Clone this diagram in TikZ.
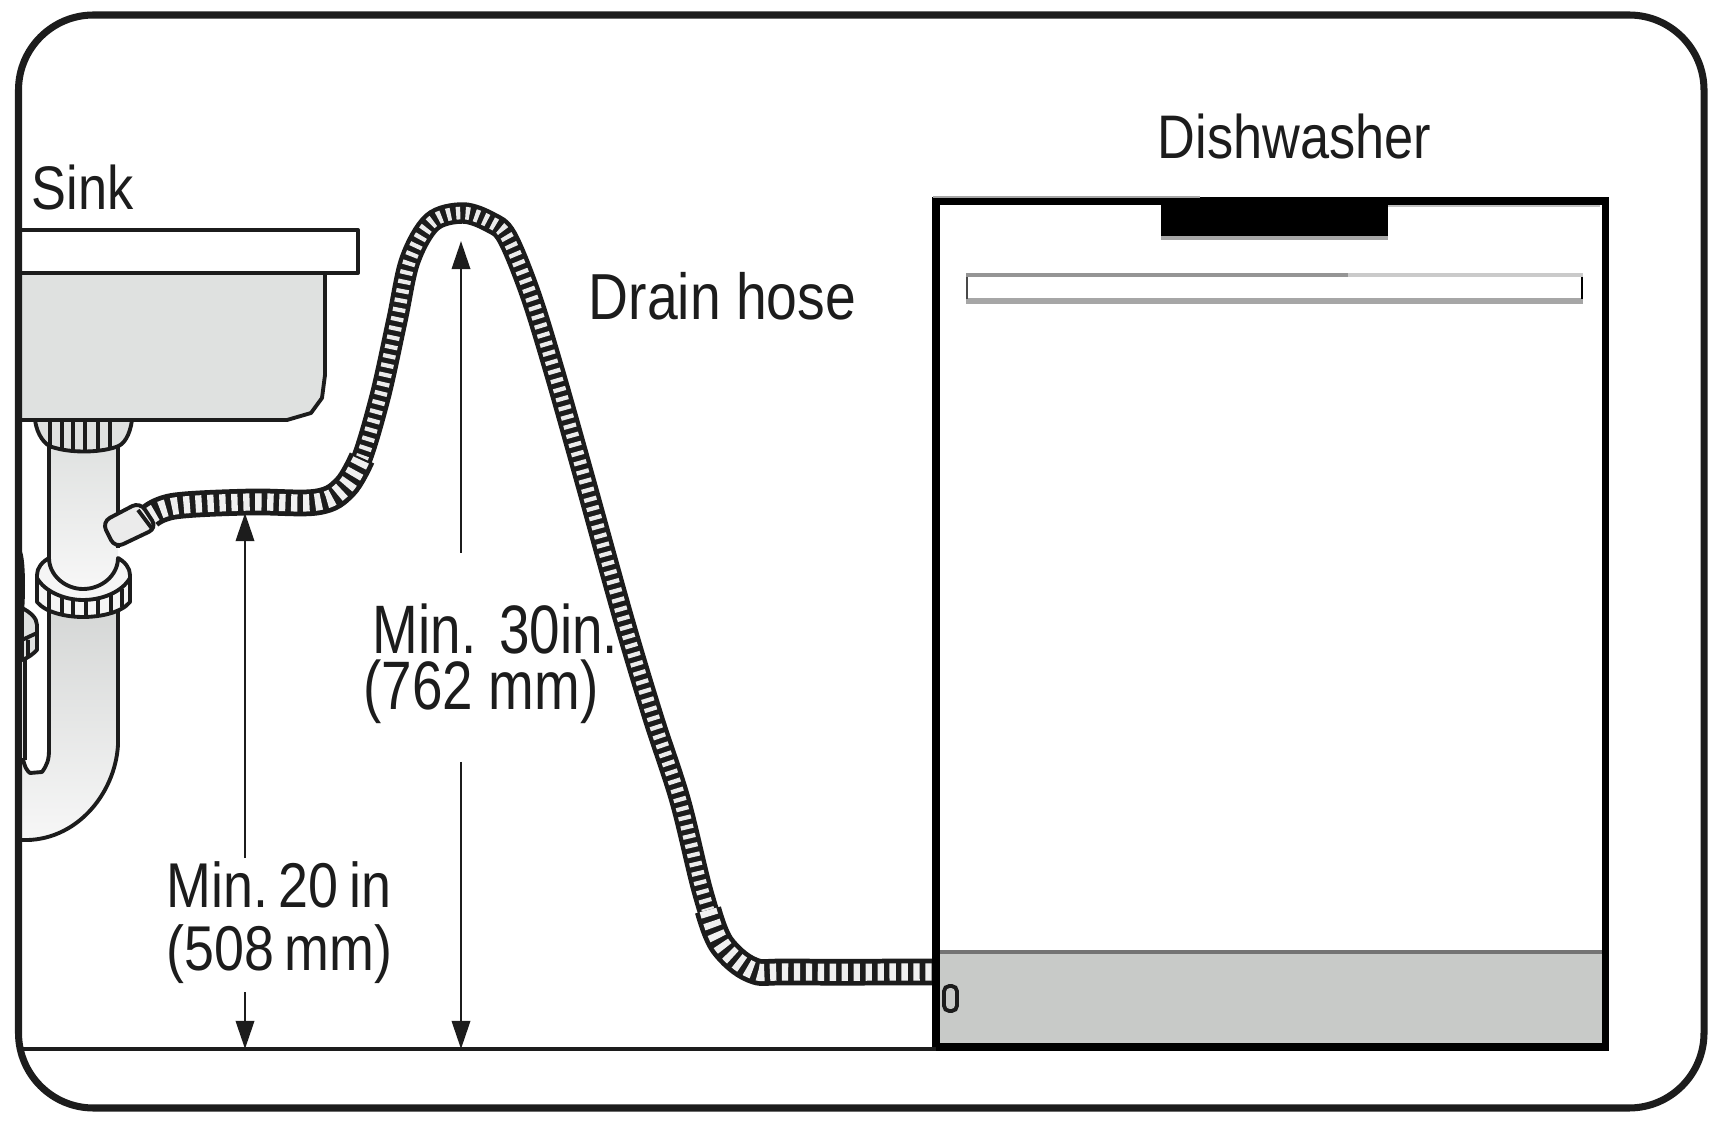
\documentclass[tikz,border=0pt]{standalone}
\usepackage{fontspec}
\setmainfont[FakeStretch=0.85]{Liberation Sans}
\newfontfamily\narrowfont[FakeStretch=0.8]{Liberation Sans}
\usepackage{tikz}
\usetikzlibrary{arrows.meta}

\definecolor{basingray}{HTML}{DFE1E0}
\definecolor{kickgray}{HTML}{C8CAC8}
\definecolor{trimgray}{HTML}{A6A6A6}
\definecolor{inkblack}{HTML}{1C1C1C}

\tikzset{
    outline/.style={draw=inkblack, line width=1.1pt, line join=round},
    dimarrow/.style={draw=inkblack, line width=0.8pt, -{Stealth[inset=0pt, length=8pt, width=5.2pt]}},
    biglabel/.style={anchor=base west, inner sep=0pt, text=inkblack, font=\narrowfont\fontsize{19.5}{22}\selectfont},
    smalllabel/.style={anchor=base west, inner sep=0pt, text=inkblack, font=\fontsize{17.5}{20}\selectfont},
    legrim/.style={inkblack, line width=6.1pt},
    legrib/.style={white!92!black, line width=3.6pt, dash pattern=on 1.2pt off 1.5pt},
    flatrim/.style={inkblack, line width=7.6pt},
    flatrib/.style={white!94!black, line width=4.9pt, dash pattern=on 1.8pt off 1.6pt},
}

\begin{document}
\begin{tikzpicture}[x=0.01cm, y=-0.01cm]

        \useasboundingbox (0, 0) rectangle (1718, 1125);

        % Free ends of the height arrows
        \coordinate (F1) at (245, 1049);
        \coordinate (F2) at (461, 1049);
        \coordinate (T1) at (245, 513);
        \coordinate (T2) at (461, 241);
        \coordinate (M1) at (245, 858);
        \coordinate (M2) at (245, 992);
        \coordinate (M3) at (461, 553);
        \coordinate (M4) at (461, 762);

        % Drain trap below the sink
        \begin{scope}
            \shade[top color=basingray, bottom color=white!97!black]
                (49, 440) rectangle (118, 590);
            \shade[top color=basingray!95!black, bottom color=white!97!black]
                (118, 600) -- (118, 745)
                .. controls (115, 795) and (75, 842) .. (22, 840)
                -- (22, 760) .. controls (26, 775) and (38, 776) .. (42, 772)
                .. controls (47, 765) and (49, 760) .. (49, 750) -- (49, 600) -- cycle;
            \draw[outline] (118, 600) -- (118, 745)
                .. controls (115, 795) and (75, 842) .. (22, 840);
            \draw[outline] (49, 600) -- (49, 750)
                .. controls (49, 760) and (47, 765) .. (42, 772)
                -- (30, 773) .. controls (27, 771) and (24, 766) .. (23, 758);
            \draw[outline] (49, 445) -- (49, 565);
            \draw[outline] (118, 445) -- (118, 548);

            % Collar on the pipe
            \filldraw[outline, fill=white!96!black] (49, 558)
                .. controls (42, 562) and (37, 568) .. (37, 575) -- (37, 602)
                .. controls (45, 612) and (65, 617) .. (83, 617)
                .. controls (102, 617) and (122, 612) .. (130, 602) -- (130, 575)
                .. controls (130, 568) and (125, 562) .. (118, 558)
                .. controls (118, 575) and (102, 589) .. (83, 589)
                .. controls (65, 589) and (49, 575) .. (49, 558) -- cycle;
            \draw[outline] (37, 578) .. controls (45, 592) and (65, 600) .. (83, 600)
                .. controls (102, 600) and (122, 592) .. (130, 578);
            \draw[outline] (49, 589) -- (49, 609) (62, 595) -- (62, 614)
                (73, 598) -- (73, 616) (86, 600) -- (86, 617) (98, 598) -- (98, 616)
                (111, 595) -- (111, 613) (122, 589) -- (122, 607);

            % Second nut cut by the frame
            \filldraw[outline, fill=basingray] (22, 608)
                .. controls (30, 612) and (37, 618) .. (37, 625) -- (37, 650)
                .. controls (33, 654) and (28, 658) .. (22, 660) -- cycle;
            \draw[outline] (22, 640) -- (37, 633) (28, 640) -- (28, 656);
            \fill[inkblack] (22, 552) .. controls (26, 560) and (26, 610) .. (22, 625) -- cycle;
            \draw[outline] (25, 660) -- (25, 760);

            % Nut under the basin
            \filldraw[outline, fill=basingray] (35, 420)
                .. controls (37, 435) and (45, 445) .. (52, 447)
                .. controls (70, 453) and (98, 453) .. (116, 447)
                .. controls (124, 445) and (130, 435) .. (132, 420) -- cycle;
            \draw[outline] (50, 420) -- (50, 445) (62, 420) -- (62, 449)
                (73, 420) -- (73, 450) (85, 420) -- (85, 451)
                (98, 420) -- (98, 450) (110, 420) -- (110, 447);
        \end{scope}

        % Sink
        \begin{scope}
            \filldraw[outline, fill=basingray] (22, 273) -- (325, 273) -- (325, 375)
                -- (322, 398) -- (311, 413) -- (287, 420) -- (22, 420);
            \draw[outline, fill=white] (22, 230) -- (358, 230) -- (358, 273) -- (22, 273);
        \end{scope}

        % Drain hose
        \begin{scope}
            \draw[legrim] plot[smooth, tension=0.55] coordinates {(340, 490) (360, 463)
                (380, 397) (397, 320) (410, 260) (432, 222) (463, 213) (490, 222) (507, 237)
                (530, 293) (553, 367) (583, 473) (623, 617) (653, 717) (680, 800)
                (703, 893) (720, 940) (745, 965)};
            \draw[legrib] plot[smooth, tension=0.55] coordinates {(340, 490) (360, 463)
                (380, 397) (397, 320) (410, 260) (432, 222) (463, 213) (490, 222) (507, 237)
                (530, 293) (553, 367) (583, 473) (623, 617) (653, 717) (680, 800)
                (703, 893) (720, 940) (745, 965)};

            \draw[flatrim] plot[smooth, tension=0.6] coordinates {(150, 516) (175, 506)
                (250, 502) (317, 502) (345, 487) (362, 458)};
            \draw[flatrib] plot[smooth, tension=0.6] coordinates {(150, 516) (175, 506)
                (250, 502) (317, 502) (345, 487) (362, 458)};

            \draw[flatrim] plot[smooth, tension=0.6] coordinates {(708, 910) (722, 945)
                (752, 970) (790, 972) (933, 972)};
            \draw[flatrib] plot[smooth, tension=0.6] coordinates {(708, 910) (722, 945)
                (752, 970) (790, 972) (933, 972)};

            % Stub entering the pipe
            \filldraw[outline, fill=white!92!black, rounded corners=2.5pt]
                (102, 522) -- (140, 502) -- (157, 528) -- (115, 548) -- cycle;
            \draw[outline] (138, 510) -- (153, 530);
        \end{scope}

        % Dishwasher
        \begin{scope}
            \fill[kickgray] (936, 952) rectangle (1604, 1045);
            \draw[trimgray!70!black, line width=1.1pt] (936, 952) -- (1604, 952);
            \draw[trimgray, line width=0.9pt] (938, 955) -- (938, 1043);
            \draw[black, line width=2pt] (936, 201) rectangle (1605, 1047);
            \fill[black] (1161, 201) rectangle (1388, 236);
            \draw[trimgray, line width=0.9pt] (1161, 238) -- (1388, 238);
            \draw[trimgray!70, line width=0.7pt] (1388, 206) -- (1600, 206);
            \draw[trimgray, line width=0.6pt] (933, 197) -- (1200, 197);

            % Handle bar
            \draw[trimgray!90!black, line width=1.1pt] (966, 275) -- (1348, 275);
            \draw[trimgray!60, line width=1.1pt] (1348, 275) -- (1583, 275);
            \draw[trimgray, line width=1.5pt] (966, 301) -- (1583, 301);
            \draw[inkblack!80, line width=0.7pt] (967, 277) -- (967, 299);
            \draw[black, line width=0.8pt] (1582, 277) -- (1582, 299);

            % Small latch
            \draw[inkblack, line width=1.1pt, rounded corners=1.5pt] (944, 986) rectangle (957, 1011);
        \end{scope}

        % Floor and frame
        \draw[inkblack, line width=0.9pt] (22, 1049) -- (936, 1049);
        \draw[inkblack, line width=2pt, rounded corners=0.75cm] (18.5, 15) rectangle (1704, 1108);

        % Height arrows
        \draw[dimarrow] (M1) -- (T1);
        \draw[dimarrow] (M2) -- (F1);
        \draw[dimarrow] (M3) -- (T2);
        \draw[dimarrow] (M4) -- (F2);

        \node[smalllabel] (sink) at (31, 210) {Sink};
        \node[smalllabel] (dishwasher) at (1157, 159) {Dishwasher};
        \node[smalllabel, font=\fontsize{18.5}{20}\selectfont] (drain) at (588, 320) {Drain hose};
        \node[biglabel] (min30) at (372, 654) {Min.\,\,30in.};
        \node[biglabel] (mm762) at (363, 710) {(762 mm)};
        \node[smalllabel, font=\fontsize{18}{20}\selectfont] (min20) at (166, 907) {Min.\,20\,in};
        \node[smalllabel, font=\fontsize{18}{20}\selectfont] (mm508) at (166, 970) {(508\,mm)};

\end{tikzpicture}
\end{document}
